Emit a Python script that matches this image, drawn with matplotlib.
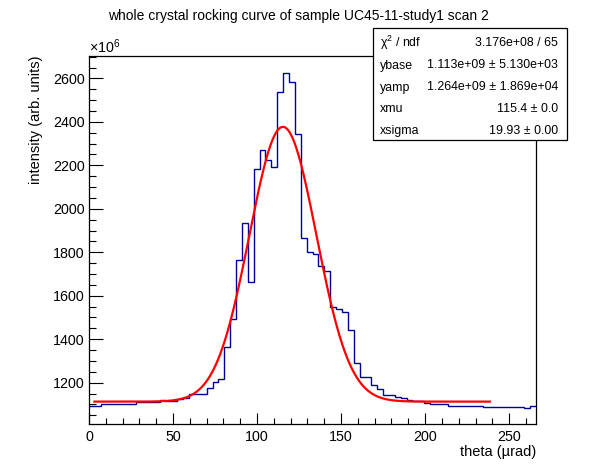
import numpy as np
import matplotlib
matplotlib.use('Agg')
import matplotlib.pyplot as plt
from matplotlib.ticker import MultipleLocator
from matplotlib.patches import Rectangle

plt.rcParams['font.family'] = ['Liberation Sans', 'DejaVu Sans']
plt.rcParams['mathtext.fontset'] = 'custom'
plt.rcParams['mathtext.rm'] = 'Liberation Sans'
plt.rcParams['mathtext.it'] = 'Liberation Sans:italic'

# ---- data ----
title = "whole crystal rocking curve of sample UC45-11-study1 scan 2"
x_title = "theta (\u00b5rad)"
y_title = "intensity (arb. units)"

theta_min, theta_max, n_bins = 0.0, 266.0, 76

# bin contents in units of 1e6
counts = [1095, 1095, 1100, 1100, 1100, 1104, 1104, 1104, 1109, 1109,
          1109, 1109, 1122, 1114, 1114, 1123, 1128, 1147, 1147, 1147,
          1177, 1205, 1215, 1366, 1495, 1763, 1933, 1661, 2184, 2271,
          2225, 2191, 2537, 2625, 2583, 2344, 1864, 1800, 1792, 1735,
          1712, 1546, 1537, 1524, 1441, 1289, 1224, 1224, 1191, 1172,
          1145, 1145, 1135, 1128, 1122, 1115, 1115, 1108, 1100, 1100,
          1100, 1095, 1095, 1095, 1095, 1095, 1095, 1089, 1089, 1089,
          1089, 1089, 1089, 1089, 1085, 1095]

# fit parameters (units of 1e6 for ybase, yamp)
ybase, yamp, xmu, xsigma = 1113.0, 1264.0, 115.4, 19.93
fit_lo, fit_hi = 3.2, 238.5

stats_labels = ["\u03c7$^{2}$ / ndf", "ybase", "yamp", "xmu", "xsigma"]
stats_values = ["3.176e+08 / 65", "1.113e+09 \u00b1 5.130e+03",
                "1.264e+09 \u00b1 1.869e+04", "115.4 \u00b1 0.0",
                "19.93 \u00b1 0.00"]

y_major, y_minor = 200, 50
x_major, x_minor = 50, 10
y_lim = (1010, 2703)

# ---- figure ----
W, H = 596, 472
fig = plt.figure(figsize=(W / 100, H / 100), dpi=100)
L, R, T, B = 89, 536, 56, 424
ax = fig.add_axes([L / W, 1 - B / H, (R - L) / W, (B - T) / H])

edges = np.linspace(theta_min, theta_max, n_bins + 1)
ax.stairs(counts, edges, baseline=None, color='#000099', lw=1.0, zorder=2)

xf = np.linspace(fit_lo, fit_hi, 500)
yf = ybase + yamp * np.exp(-0.5 * ((xf - xmu) / xsigma) ** 2)
ax.plot(xf, yf, color='red', lw=1.6, zorder=3)

ax.set_xlim(theta_min, theta_max)
ax.set_ylim(*y_lim)
ax.xaxis.set_major_locator(MultipleLocator(x_major))
ax.xaxis.set_minor_locator(MultipleLocator(x_minor))
ax.yaxis.set_major_locator(MultipleLocator(y_major))
ax.yaxis.set_minor_locator(MultipleLocator(y_minor))
ax.tick_params(which='both', direction='in', top=False, right=False,
               labelsize=10.3, width=0.8, color='black')
ax.tick_params(axis='x', which='major', length=8, pad=4)
ax.tick_params(axis='x', which='minor', length=4)
ax.tick_params(axis='y', which='major', length=10, pad=3)
ax.tick_params(axis='y', which='minor', length=5)
for s in ax.spines.values():
    s.set_linewidth(0.9)

fig.text(L / W, 1 - 53 / H, "\u00d710$^{6}$", fontsize=10.3,
         ha='left', va='baseline')

fig.text(298 / W, 1 - 16 / H, title, fontsize=10, ha='center', va='center')
fig.text(R / W, 1 - 452 / H, x_title, fontsize=10.5, ha='right', va='center')
fig.text(36 / W, 1 - 56 / H, y_title, fontsize=10.5, rotation=90,
         ha='center', va='top')

# stats box
bx0, by0, bx1, by1 = 373, 28, 567, 140
fig.patches.append(Rectangle((bx0 / W, 1 - by1 / H), (bx1 - bx0) / W,
                             (by1 - by0) / H, transform=fig.transFigure,
                             facecolor='white', edgecolor='black', lw=0.9,
                             zorder=5))
row_y = [42.5, 65.5, 87.5, 109.5, 131]
for lab, val, yy in zip(stats_labels, stats_values, row_y):
    fig.text(379.5 / W, 1 - yy / H, lab, fontsize=8.9, ha='left',
             va='center', zorder=6)
    fig.text(558 / W, 1 - yy / H, val, fontsize=8.9, ha='right',
             va='center', zorder=6)

fig.savefig('out.png', dpi=100)
